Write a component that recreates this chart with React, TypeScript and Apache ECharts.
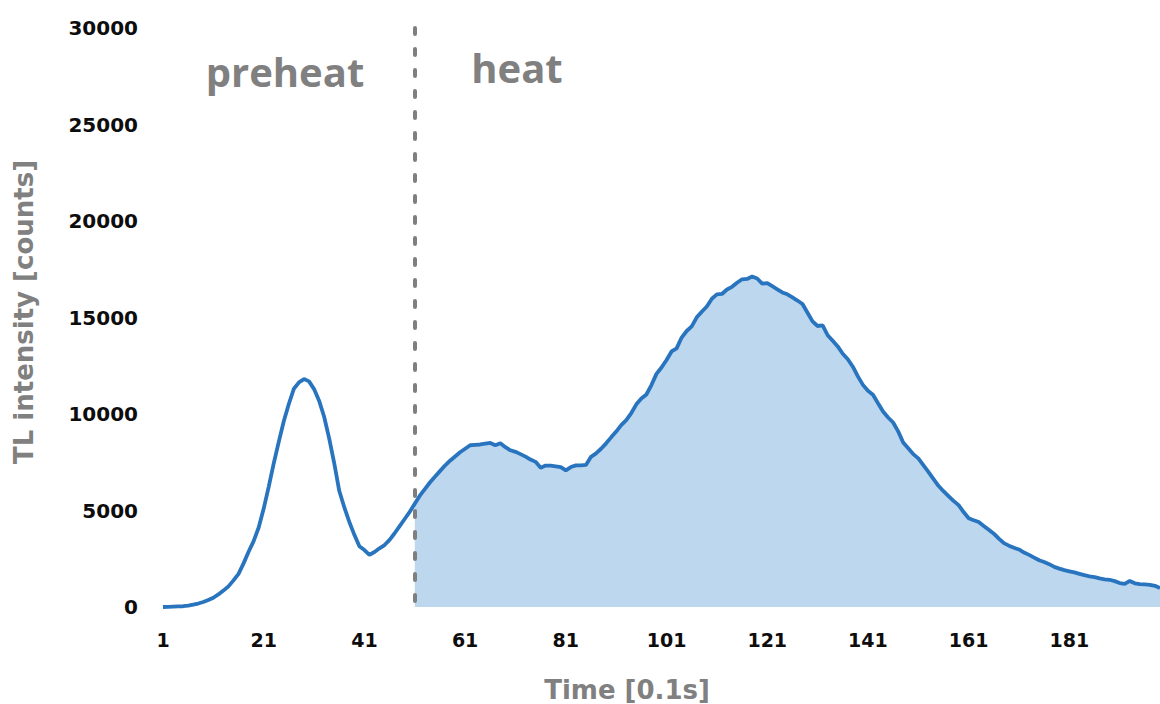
import React, { useEffect, useRef } from "react";
import * as echarts from "echarts";

// Time categories (0.1 s steps)
const timeCategories: string[] = Array.from({ length: 199 }, (_, i) => String(i + 1));

// TL counts during the preheat phase (t = 1 .. 50)
const preheatCounts: number[] = [
  0, 10, 20, 30, 40, 70, 120, 180, 260, 360,
  480, 650, 850, 1070, 1380, 1720, 2260, 2860, 3410, 4120,
  5100, 6240, 7450, 8570, 9640, 10530, 11310, 11640, 11810, 11690,
  11290, 10690, 9860, 8740, 7460, 6020, 5170, 4410, 3740, 3150,
  2950, 2700, 2850, 3040, 3210, 3480, 3820, 4190, 4560, 4930,
];

// TL counts during the heat phase (t = 51 .. 199)
const heatCounts: number[] = [
  5350, 5770, 6110, 6450, 6750, 7040, 7330, 7580, 7800, 8020,
  8200, 8380, 8400, 8420, 8460, 8500, 8380, 8480, 8280, 8120,
  8040, 7920, 7790, 7640, 7520, 7220, 7330, 7320, 7290, 7250,
  7080, 7250, 7340, 7340, 7360, 7780, 7960, 8200, 8480, 8790,
  9090, 9420, 9680, 10050, 10500, 10800, 11010, 11500, 12080, 12410,
  12800, 13240, 13400, 13960, 14300, 14540, 15010, 15300, 15570, 15970,
  16200, 16220, 16450, 16590, 16800, 16980, 17000, 17120, 17020, 16760,
  16780, 16620, 16460, 16300, 16200, 16040, 15880, 15700, 15250, 14800,
  14560, 14590, 14080, 13790, 13500, 13120, 12840, 12450, 11950, 11510,
  11200, 11000, 10560, 10130, 9820, 9560, 9100, 8520, 8230, 7920,
  7700, 7350, 7000, 6640, 6280, 6000, 5750, 5500, 5280, 4920,
  4600, 4500, 4400, 4200, 4000, 3800, 3540, 3310, 3180, 3070,
  2980, 2820, 2700, 2560, 2420, 2330, 2220, 2080, 1990, 1910,
  1850, 1790, 1720, 1650, 1590, 1550, 1480, 1430, 1410, 1340,
  1240, 1200, 1350, 1230, 1190, 1170, 1150, 1100, 980,
];

const heatStartCategory = "51";
const yTicks = { min: 0, max: 30000, interval: 5000 };
const xLabelEvery = 20;
const phaseLabels = ["preheat", "heat"];
const xAxisTitle = "Time [0.1s]";
const yAxisTitle = "TL intensity [counts]";

export default function App() {
  const ref = useRef<HTMLDivElement>(null);

  useEffect(() => {
    if (!ref.current) return;
    const chart = echarts.init(ref.current, undefined, { renderer: "svg" });

    const allCounts = [...preheatCounts, ...heatCounts];
    const heatFill = [...preheatCounts.map(() => null), ...heatCounts];

    const tickFont = {
      fontFamily: "DejaVu Sans",
      fontWeight: "bold" as const,
      color: "#0d0d0d",
    };

    chart.setOption({
      animation: false,
      backgroundColor: "#ffffff",
      grid: { left: 163, right: 0, top: 28, bottom: 97, containLabel: false },
      xAxis: {
        type: "category",
        data: timeCategories,
        boundaryGap: false,
        axisLine: { show: false },
        axisTick: { show: false },
        splitLine: { show: false },
        axisLabel: {
          ...tickFont,
          fontSize: 19,
          interval: (idx: number) => idx % xLabelEvery === 0,
          margin: 23,
        },
      },
      yAxis: {
        type: "value",
        min: yTicks.min,
        max: yTicks.max,
        interval: yTicks.interval,
        axisLine: { show: false },
        axisTick: { show: false },
        splitLine: { show: false },
        axisLabel: {
          ...tickFont,
          fontSize: 20,
          margin: 25,
          formatter: (v: number) => String(v),
        },
      },
      series: [
        {
          type: "line",
          data: heatFill,
          symbol: "none",
          silent: true,
          z: 1,
          lineStyle: { width: 0 },
          areaStyle: { color: "#BDD7EE", opacity: 1 },
          connectNulls: false,
        },
        {
          type: "line",
          data: allCounts,
          symbol: "none",
          z: 3,
          lineStyle: { color: "#2874BE", width: 3.8 },
          markLine: {
            silent: true,
            symbol: ["none", "none"],
            label: { show: false },
            lineStyle: {
              color: "#7f7f7f",
              width: 4,
              type: [6, 15],
              cap: "round",
            },
            data: [
              [
                { coord: [heatStartCategory, yTicks.max] },
                { coord: [heatStartCategory, yTicks.min] },
              ],
            ],
          },
        },
      ],
      graphic: [
        {
          type: "text",
          x: 285,
          y: 71,
          style: {
            text: phaseLabels[0],
            font: "bold 40px 'Open Sans'",
            fill: "#808080",
            align: "center",
            verticalAlign: "middle",
          },
        },
        {
          type: "text",
          x: 517,
          y: 67,
          style: {
            text: phaseLabels[1],
            font: "bold 40px 'Open Sans'",
            fill: "#808080",
            align: "center",
            verticalAlign: "middle",
          },
        },
        {
          type: "text",
          x: 627,
          y: 690,
          style: {
            text: xAxisTitle,
            font: "bold 26px 'DejaVu Sans'",
            fill: "#808080",
            align: "center",
            verticalAlign: "middle",
          },
        },
        {
          type: "text",
          x: 24,
          y: 312,
          rotation: Math.PI / 2,
          style: {
            text: yAxisTitle,
            font: "bold 26px 'DejaVu Sans'",
            fill: "#808080",
            align: "center",
            verticalAlign: "middle",
          },
        },
      ],
    });

    return () => chart.dispose();
  }, []);

  return (
    <div
      ref={ref}
      style={{ position: "fixed", left: 0, top: 0, width: 1160, height: 704 }}
    />
  );
}
